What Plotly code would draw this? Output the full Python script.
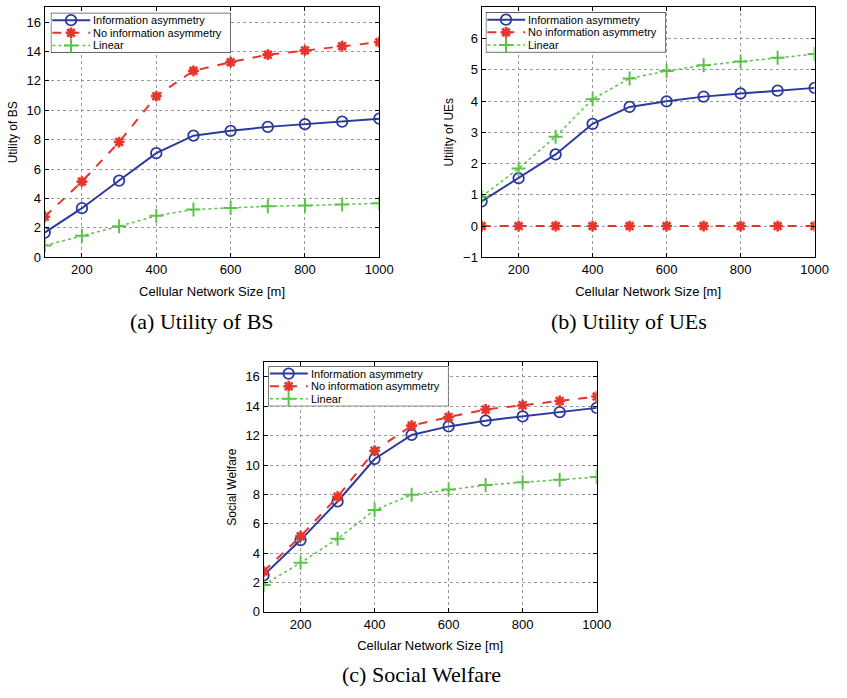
import plotly.graph_objects as go

W, H = 847, 698

sizes = [100, 200, 300, 400, 500, 600, 700, 800, 900, 1000]
x_ticks = [200, 400, 600, 800, 1000]

bs_info = [1.68, 3.34, 5.22, 7.08, 8.27, 8.60, 8.87, 9.05, 9.23, 9.43]
bs_noinfo = [2.76, 5.15, 7.84, 10.96, 12.68, 13.27, 13.78, 14.07, 14.36, 14.63]
bs_linear = [0.81, 1.46, 2.11, 2.82, 3.25, 3.36, 3.47, 3.52, 3.59, 3.67]

ue_info = [0.79, 1.53, 2.29, 3.27, 3.81, 3.99, 4.14, 4.24, 4.33, 4.42]
ue_noinfo = [0, 0, 0, 0, 0, 0, 0, 0, 0, 0]
ue_linear = [0.94, 1.84, 2.86, 4.06, 4.72, 4.96, 5.14, 5.26, 5.38, 5.50]

sw_info = [2.49, 4.89, 7.52, 10.41, 12.05, 12.63, 13.02, 13.31, 13.60, 13.89]
sw_noinfo = [2.75, 5.15, 7.84, 10.97, 12.68, 13.27, 13.78, 14.07, 14.36, 14.66]
sw_linear = [1.84, 3.34, 4.98, 6.93, 7.97, 8.33, 8.64, 8.82, 9.00, 9.18]

series_names = ["Information asymmetry", "No information asymmetry", "Linear"]
captions = ["(a) Utility of BS", "(b) Utility of UEs", "(c) Social Welfare"]
y_titles = ["Utility of BS", "Utility of UEs", "Social Welfare"]
x_title = "Cellular Network Size [m]"

BLUE = "#2b3a9c"
RED = "#e8352b"
GREEN = "#5cc24a"

series_styles = [
    dict(line=dict(color=BLUE, width=2),
         marker=dict(symbol="circle-open", size=10.5, color=BLUE,
                     line=dict(color=BLUE, width=1.8))),
    dict(line=dict(color=RED, width=2, dash="dash"),
         marker=dict(symbol="asterisk-open", size=9, color=RED,
                     line=dict(color=RED, width=2.6))),
    dict(line=dict(color=GREEN, width=1.5, dash="dot"),
         marker=dict(symbol="cross-thin-open", size=10, color=GREEN,
                     line=dict(color=GREEN, width=2))),
]


def px_x(p):
    return p / W


def px_y(p):
    return 1 - p / H


# panel geometry in pixels: (left, right, top, bottom)
panels = [
    (45.5, 385.7, 7.4, 260.3),
    (489.7, 828.3, 7.3, 260.3),
    (268.0, 606.7, 366.4, 619.0),
]
yranges = [(0, 17), (-1, 7.0001), (0, 17)]
ydticks = [2, 1, 2]
legend_pos = [(51.7, 13.0), (494.0, 12.5), (273.0, 370.5)]
LEG_W, LEG_H = 183.0, 40.5
LEG_ROWS = [7.4, 20.2, 33.0]
LEG_LINE = (1.5, 40.0)
LEG_MARK = 20.5
LEG_TEXT = 42.0
caption_pos = [(205, 325), (640, 325), (429, 682)]

data_sets = [
    (bs_info, bs_noinfo, bs_linear),
    (ue_info, ue_noinfo, ue_linear),
    (sw_info, sw_noinfo, sw_linear),
]

fig = go.Figure()
layout = {}
annotations = []
shapes = []
font_family = "Liberation Sans, Arial, sans-serif"

for i, series in enumerate(data_sets):
    sfx = "" if i == 0 else str(i + 1)
    xa = "x" + sfx
    ya = "y" + sfx
    for k, vals in enumerate(series):
        fig.add_trace(go.Scatter(
            x=sizes, y=vals, name=series_names[k], mode="lines+markers",
            xaxis=xa, yaxis=ya, showlegend=False,
            **series_styles[k],
        ))

    l, r, t, b = panels[i]
    axis_common = dict(
        showline=True, linecolor="black", linewidth=1.2, mirror="ticks",
        ticks="inside", ticklen=4, tickcolor="black",
        showgrid=True, gridcolor="#999999", griddash="dot", gridwidth=1,
        zeroline=False,
        tickfont=dict(family=font_family, size=13, color="black"),
    )
    layout["xaxis" + sfx] = dict(
        axis_common, domain=[px_x(l), px_x(r)], anchor=ya,
        range=[100, 1000], tickvals=x_ticks,
        title=dict(text=x_title, font=dict(family=font_family, size=13, color="black"), standoff=10),
    )
    layout["yaxis" + sfx] = dict(
        axis_common, domain=[px_y(b), px_y(t)], anchor=xa,
        range=list(yranges[i]), dtick=ydticks[i], tick0=0,
        title=dict(text=y_titles[i], font=dict(family=font_family, size=12, color="black"), standoff=6),
    )

# hand-drawn legends (compact, like MATLAB's)
for i in range(3):
    n = 4 + i
    lxa, lya = "x%d" % n, "y%d" % n
    lx, ly = legend_pos[i]
    layout["xaxis%d" % n] = dict(domain=[px_x(lx), px_x(lx + LEG_W)], range=[0, LEG_W],
                                 visible=False, anchor=lya, fixedrange=True)
    layout["yaxis%d" % n] = dict(domain=[px_y(ly + LEG_H), px_y(ly)], range=[LEG_H, 0],
                                 visible=False, anchor=lxa, fixedrange=True)
    shapes.append(dict(type="rect", xref=lxa, yref=lya, x0=0, x1=LEG_W, y0=0, y1=LEG_H,
                       fillcolor="white", line=dict(color="black", width=1), layer="between"))
    for k in range(3):
        row = LEG_ROWS[k]
        st = series_styles[k]
        fig.add_trace(go.Scatter(
            x=list(LEG_LINE), y=[row, row], mode="lines", line=st["line"],
            xaxis=lxa, yaxis=lya, showlegend=False, hoverinfo="skip", cliponaxis=False,
        ))
        fig.add_trace(go.Scatter(
            x=[LEG_MARK], y=[row], mode="markers", marker=st["marker"],
            xaxis=lxa, yaxis=lya, showlegend=False, hoverinfo="skip", cliponaxis=False,
        ))
        annotations.append(dict(
            text=series_names[k], x=LEG_TEXT, y=row, xref=lxa, yref=lya,
            xanchor="left", yanchor="middle", showarrow=False, borderpad=0,
            font=dict(family=font_family, size=11, color="black"),
        ))

for i, cap in enumerate(captions):
    cx, cy = caption_pos[i]
    annotations.append(dict(
        text=cap, x=px_x(cx), y=px_y(cy), xref="paper", yref="paper",
        xanchor="center", yanchor="middle", showarrow=False,
        font=dict(family="Liberation Serif, Times New Roman, serif", size=22, color="black"),
    ))

fig.update_layout(
    width=W, height=H,
    margin=dict(l=0, r=0, t=0, b=0),
    paper_bgcolor="white", plot_bgcolor="white",
    annotations=annotations,
    shapes=shapes,
    showlegend=False,
    **layout,
)

fig.write_html("out.html")
